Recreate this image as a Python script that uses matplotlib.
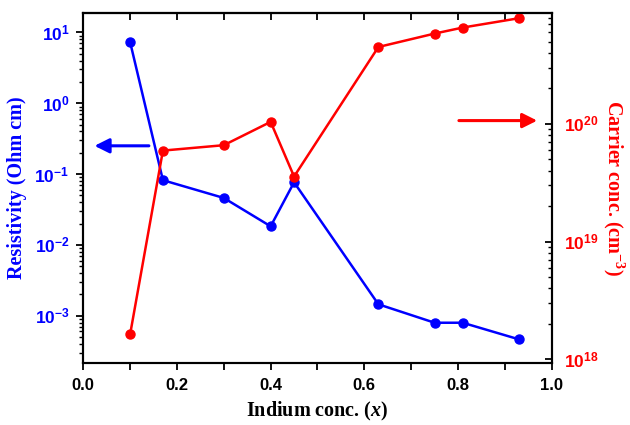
import matplotlib
matplotlib.use('Agg')
import matplotlib.pyplot as plt
from matplotlib.ticker import LogLocator, FuncFormatter, NullFormatter, MultipleLocator
import numpy as np

# Data
indium = [0.10, 0.17, 0.30, 0.40, 0.45, 0.63, 0.75, 0.81, 0.93]
resistivity = [7.3, 0.082, 0.046, 0.0183, 0.0766, 1.45e-3, 7.96e-4, 7.96e-4, 4.64e-4]
carrier = [1.63e18, 5.93e19, 6.59e19, 1.04e20, 3.57e19, 4.5e20, 5.85e20, 6.58e20, 7.9e20]

blue = '#0000FF'
red = '#FF0000'
tick_font = 'Liberation Sans'
label_font = 'Liberation Serif'

# \mathrm -> sans bold (tick labels), \mathbf / \mathit -> serif (axis labels)
plt.rcParams['mathtext.fontset'] = 'custom'
plt.rcParams['mathtext.rm'] = 'Liberation Sans:bold'
plt.rcParams['mathtext.bf'] = 'Liberation Serif:bold'
plt.rcParams['mathtext.it'] = 'Liberation Serif:italic:bold'

fig = plt.figure(figsize=(6.3, 4.25), dpi=100)
ax = fig.add_axes([0.1322, 0.1459, 0.7435, 0.8242])
ax2 = ax.twinx()

# Resistivity (left)
ax.plot(indium, resistivity, color=blue, lw=1.8, marker='o', ms=6.5,
        markeredgecolor=blue)
ax.set_yscale('log')
ax.set_ylim(2.15e-4, 19)
ax.set_xlim(0, 1)

# Carrier concentration (right)
ax2.plot(indium, carrier, color=red, lw=1.8, marker='o', ms=6.5,
         markeredgecolor=red)
ax2.set_yscale('log')
ax2.set_ylim(9.3e17, 8.8e20)


def sci(v, pos):
    e = int(round(np.log10(v)))
    return r'$\mathrm{10^{%d}}$' % e


for a in (ax, ax2):
    a.yaxis.set_major_locator(LogLocator(base=10, numticks=20))
    a.yaxis.set_minor_locator(LogLocator(base=10, subs=np.arange(2, 10), numticks=20))
    a.yaxis.set_minor_formatter(NullFormatter())
    a.yaxis.set_major_formatter(FuncFormatter(sci))
    for s in a.spines.values():
        s.set_linewidth(1.5)

ax.xaxis.set_major_locator(MultipleLocator(0.2))
ax.xaxis.set_minor_locator(MultipleLocator(0.1))
ax.tick_params(axis='x', which='both', direction='out', length=5, width=1.3,
               labelsize=12, pad=6)
ax.tick_params(axis='y', which='major', direction='out', length=5, width=1.3,
               labelsize=12.5, labelcolor=blue, pad=5)
ax.tick_params(axis='y', which='minor', direction='out', length=3, width=1.0)
ax2.tick_params(axis='y', which='major', direction='in', length=5, width=1.3,
                labelsize=12.5, labelcolor=red, pad=9)
ax2.tick_params(axis='y', which='minor', direction='in', length=3, width=1.0)

# top ticks point inward
top = ax.secondary_xaxis('top')
top.xaxis.set_major_locator(MultipleLocator(0.1))
top.tick_params(axis='x', direction='in', length=5, width=1.3, labeltop=False)
top.spines['top'].set_linewidth(1.5)

for lab in ax.get_xticklabels():
    lab.set_fontfamily(tick_font)
    lab.set_fontweight('bold')

ax.set_xlabel(r'Indium conc. ($\mathit{x}$)', fontsize=14.5, fontweight='bold',
              family=label_font, labelpad=5)
ax.set_ylabel('Resistivity (Ohm cm)', fontsize=14.5, fontweight='bold',
              family=label_font, color=blue, labelpad=5)
ax2.set_ylabel(r'Carrier conc. (cm$^{\mathbf{-3}}$)', fontsize=14.5, fontweight='bold',
               family=label_font, color=red, rotation=270, labelpad=20)

# Arrows pointing to each axis
ax.annotate('', xy=(0.018, 0.620), xytext=(0.146, 0.620), xycoords='axes fraction',
            arrowprops=dict(arrowstyle='-|>', color=blue, lw=2.2, mutation_scale=22))
ax2.annotate('', xy=(0.975, 0.692), xytext=(0.796, 0.692), xycoords='axes fraction',
             arrowprops=dict(arrowstyle='-|>', color=red, lw=2.2, mutation_scale=22))

fig.savefig('out.png', dpi=100)
